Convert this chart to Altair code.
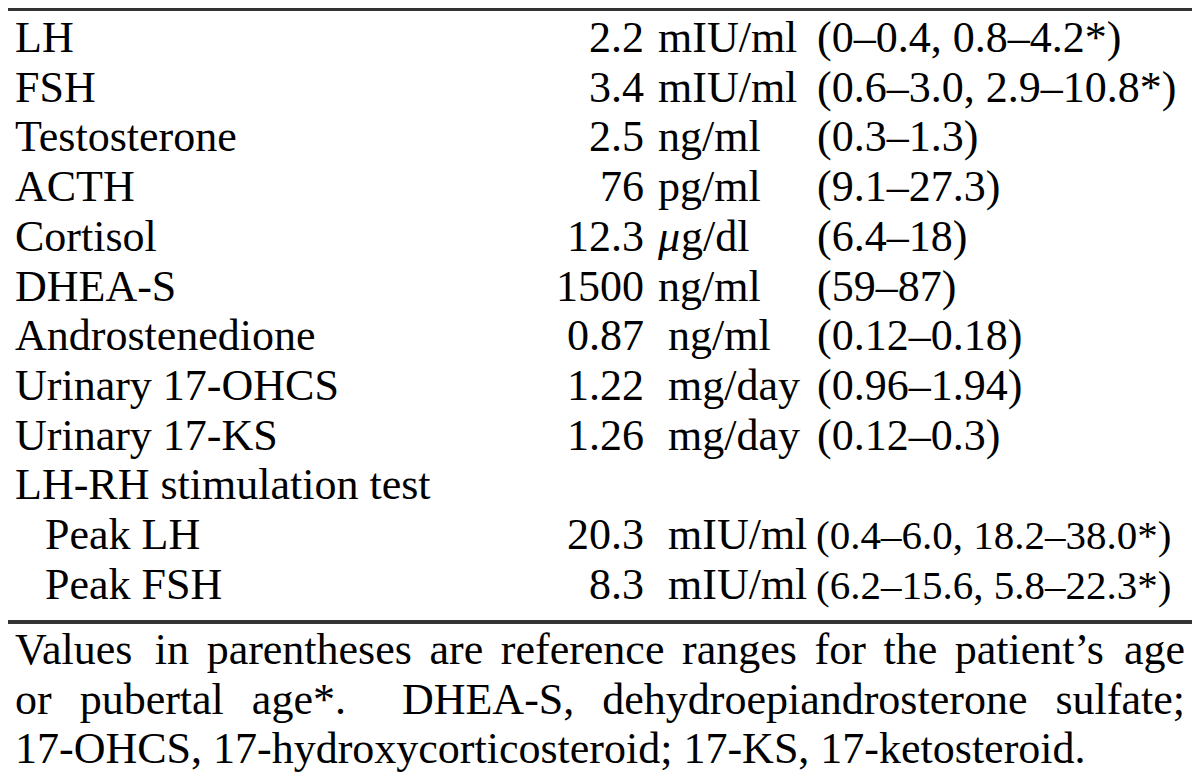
import altair as alt
import pandas as pd

labels = ["LH", "FSH", "Testosterone", "ACTH", "Cortisol", "DHEA-S",
          "Androstenedione", "Urinary 17-OHCS", "Urinary 17-KS",
          "LH-RH stimulation test", "Peak LH", "Peak FSH"]
values = ["2.2", "3.4", "2.5", "76", "12.3", "1500", "0.87", "1.22", "1.26",
          "", "20.3", "8.3"]
units = ["mIU/ml", "mIU/ml", "ng/ml", "pg/ml", "\u03bcg/dl", "ng/ml", "ng/ml",
         "mg/day", "mg/day", "", "mIU/ml", "mIU/ml"]
ranges = ["(0\u20130.4, 0.8\u20134.2*)", "(0.6\u20133.0, 2.9\u201310.8*)",
          "(0.3\u20131.3)", "(9.1\u201327.3)", "(6.4\u201318)", "(59\u201387)",
          "(0.12\u20130.18)", "(0.96\u20131.94)", "(0.12\u20130.3)", "",
          "(0.4\u20136.0, 18.2\u201338.0*)", "(6.2\u201315.6, 5.8\u201322.3*)"]
sublevel = [0, 0, 0, 0, 0, 0, 0, 0, 0, 0, 1, 1]

footnotes = [
    "Values in parentheses are reference ranges for the patient\u2019s age",
    "or pubertal age*.  DHEA-S, dehydroepiandrosterone sulfate;",
    "17-OHCS, 17-hydroxycorticosteroid; 17-KS, 17-ketosteroid.",
]
justified = [True, True, False]

FONT = "Liberation Serif"
SIZE = 44
W, H = 1184, 764
LEFT, RIGHT = 7, 1177
MU = "\u03bc"

# Times / Liberation Serif advance widths (per 1000 em) for text layout of the note
TIMES = {" ": 250, "a": 444, "b": 500, "c": 444, "d": 500, "e": 444, "f": 333,
         "g": 500, "h": 500, "i": 278, "j": 278, "k": 500, "l": 278, "m": 778,
         "n": 500, "o": 500, "p": 500, "q": 500, "r": 333, "s": 389, "t": 278,
         "u": 500, "v": 500, "w": 722, "x": 500, "y": 500, "z": 444,
         "A": 722, "C": 667, "D": 722, "E": 611, "H": 722, "K": 722, "O": 722,
         "S": 556, "V": 722, ",": 250, ".": 250, ";": 278, "-": 333, "*": 500,
         "\u2019": 333}
for d in "0123456789":
    TIMES[d] = 500


def width(s):
    return sum(TIMES.get(c, 500) for c in s) / 1000 * SIZE


note_rows = []
for li, (line, just) in enumerate(zip(footnotes, justified)):
    if not just:
        note_rows.append({"line": li, "word": line, "x": LEFT})
        continue
    parts = line.split(" ")
    words, weights = [], []
    for p in parts:
        if p == "":
            weights[-1] += 1
        else:
            words.append(p)
            weights.append(1)
    weights = weights[:-1]
    total = sum(width(w) for w in words)
    gap = (RIGHT - LEFT - total) / sum(weights)
    x = LEFT
    for i, w in enumerate(words):
        note_rows.append({"line": li, "word": w, "x": x})
        if i < len(weights):
            x += width(w) + gap * weights[i]

rows = pd.DataFrame({
    "row": list(range(len(labels))),
    "label": labels,
    "value": values,
    "unit": units,
    "range": ranges,
    "level": sublevel,
})
notes = pd.DataFrame(note_rows)

yrow = alt.Y("row:Q", scale=alt.Scale(domain=[0, 11], range=[44, 590.7]), axis=None)
ynote = alt.Y("line:Q", scale=alt.Scale(domain=[0, 2], range=[656, 755]), axis=None)
xpix = alt.X("x:Q", scale=alt.Scale(domain=[0, W], range=[0, W]), axis=None)


def txt(align="left", size=SIZE, **kw):
    return alt.Chart(rows).mark_text(font=FONT, fontSize=size, align=align,
                                     baseline="alphabetic", color="black", **kw)


is_mu = f"indexof(datum.unit, '{MU}') == 0"

label_layer = txt().encode(
    x=alt.X("level:Q", scale=alt.Scale(domain=[0, 1], range=[7, 37]), axis=None),
    y=yrow, text="label:N")
value_layer = txt("right").encode(x=alt.value(636), y=yrow, text="value:N")
unit_a = txt().transform_filter(f"datum.row < 6 && !({is_mu})").encode(
    x=alt.value(650), y=yrow, text="unit:N")
unit_mu = txt(fontStyle="italic").transform_filter(is_mu).transform_calculate(
    sym="substring(datum.unit, 0, 1)").encode(x=alt.value(650), y=yrow, text="sym:N")
unit_mu_rest = txt(dx=23).transform_filter(is_mu).transform_calculate(
    rest="substring(datum.unit, 1)").encode(x=alt.value(650), y=yrow, text="rest:N")
unit_b = txt().transform_filter("datum.row >= 6").encode(
    x=alt.value(660), y=yrow, text="unit:N")
range_a = txt().transform_filter("datum.level == 0").encode(
    x=alt.value(809), y=yrow, text="range:N")
range_b = txt(size=41).transform_filter("datum.level == 1").encode(
    x=alt.value(808), y=yrow, text="range:N")

note_layer = alt.Chart(notes).mark_text(font=FONT, fontSize=SIZE, align="left",
                                        baseline="alphabetic", color="black").encode(
    x=xpix, y=ynote, text="word:N")

top_rule = alt.Chart(rows).mark_rule(color="#333333", strokeWidth=2.5).encode(
    x=alt.value(0), x2=alt.value(W), y=alt.value(1))
bottom_rule = alt.Chart(rows).mark_rule(color="#333333", strokeWidth=2.5).encode(
    x=alt.value(0), x2=alt.value(W), y=alt.value(614))

chart = alt.layer(top_rule, bottom_rule, label_layer, value_layer, unit_a, unit_mu,
                  unit_mu_rest, unit_b, range_a, range_b, note_layer).properties(
    width=W, height=H, padding=0, autosize="none"
).configure_view(stroke=None).resolve_scale(x="independent", y="independent")

chart.save("out.html", embed_options={"renderer": "svg", "actions": False})
